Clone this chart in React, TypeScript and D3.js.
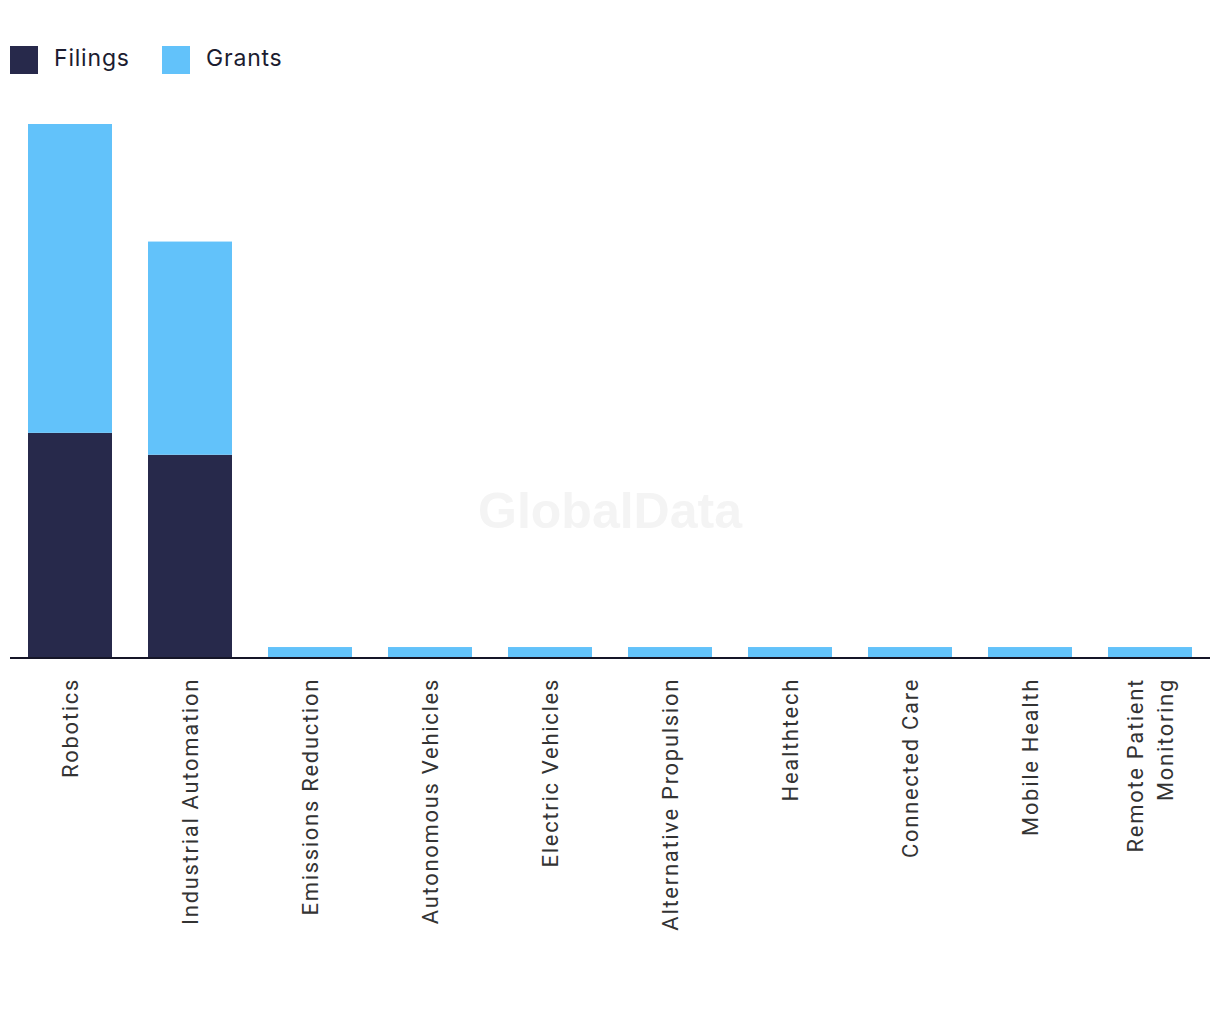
import React from "react";
import * as d3 from "d3";

const categories = [
  "Robotics",
  "Industrial Automation",
  "Emissions Reduction",
  "Autonomous Vehicles",
  "Electric Vehicles",
  "Alternative Propulsion",
  "Healthtech",
  "Connected Care",
  "Mobile Health",
  "Remote Patient Monitoring",
];
const filings = [45, 40.6, 0, 0, 0, 0, 0, 0, 0, 0];
const grants = [62, 42.8, 2, 2, 2, 2, 2, 2, 2, 2];
const seriesNames = ["Filings", "Grants"];
const seriesColors = ["#27294B", "#62C2FA"];
const labelLines: Record<string, string[]> = {
  "Remote Patient Monitoring": ["Remote Patient", "Monitoring"],
};

const W = 1220;
const H = 1020;
const margin = { left: 10, right: 10, top: 124, baseline: 657 };

export default function App() {
  const rows = categories.map((c, i) => ({ cat: c, Filings: filings[i], Grants: grants[i] }));
  const stack = d3.stack<any>().keys(seriesNames)(rows);
  const maxTotal = d3.max(rows, (r) => r.Filings + r.Grants) as number;

  const x = d3
    .scaleBand<string>()
    .domain(categories)
    .range([margin.left, W - margin.right])
    .paddingInner(0.3)
    .paddingOuter(0.15);
  const y = d3.scaleLinear().domain([0, maxTotal]).range([margin.baseline, margin.top]);

  return (
    <svg
      width={W}
      height={H}
      style={{ position: "absolute", left: 0, top: 0, background: "#fff" }}
    >
      <text
        x={610}
        y={528}
        textAnchor="middle"
        fontFamily="Liberation Sans, Arial, sans-serif"
        fontWeight="bold"
        fontSize={50}
        fill="#f4f4f4"
      >
        GlobalData
      </text>

      {/* legend */}
      {seriesNames.map((s, i) => {
        const lx = i === 0 ? 10 : 162;
        return (
          <g key={s}>
            <rect x={lx} y={46} width={28} height={28} fill={seriesColors[i]} />
            <text
              x={lx + 44}
              y={66}
              fontFamily="Inter, 'Noto Sans', sans-serif"
              fontSize={23}
              letterSpacing={0.8}
              fill="#1c1c30"
            >
              {s}
            </text>
          </g>
        );
      })}

      {/* bars */}
      {stack.map((layer, si) => (
        <g key={layer.key} fill={seriesColors[si]}>
          {layer.map((d, i) =>
            d[1] - d[0] > 0 ? (
              <rect
                key={i}
                x={x(categories[i])}
                width={x.bandwidth()}
                y={y(d[1])}
                height={y(d[0]) - y(d[1])}
              />
            ) : null
          )}
        </g>
      ))}

      {/* axis line */}
      <line
        x1={margin.left}
        x2={W - margin.right}
        y1={margin.baseline + 1}
        y2={margin.baseline + 1}
        stroke="#151527"
        strokeWidth={2}
      />

      {/* labels */}
      {categories.map((c) => {
        const lines = labelLines[c] || [c];
        const cx = (x(c) as number) + x.bandwidth() / 2;
        const lh = 30;
        return (
          <text
            key={c}
            transform={`translate(${cx},678) rotate(-90)`}
            textAnchor="end"
            fontFamily="Roboto, sans-serif"
            fontSize={22}
            letterSpacing={1.7}
            fill="#333"
          >
            {lines.map((l, li) => (
              <tspan
                key={li}
                x={0}
                y={(li - (lines.length - 1) / 2) * lh}
                dy="0.35em"
              >
                {l}
              </tspan>
            ))}
          </text>
        );
      })}
    </svg>
  );
}
